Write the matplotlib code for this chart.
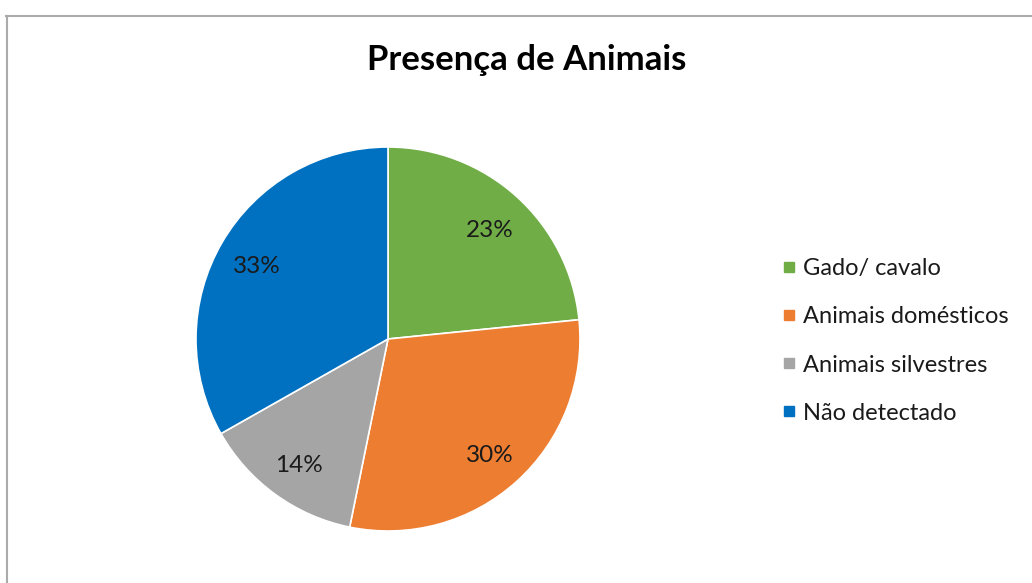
# presenca de animais: pie chart
import matplotlib.pyplot as plt
from matplotlib.lines import Line2D

# chart data
categories = ['Gado/ cavalo', 'Animais domésticos', 'Animais silvestres', 'Não detectado']
shares = [23.4, 29.8, 13.6, 33.2]
colours = ['#70AD47', '#ED7D31', '#A5A5A5', '#0070C0']

plt.rcParams['font.family'] = ['Lato', 'DejaVu Sans']

W, H = 1032, 583
fig = plt.figure(figsize = (W / 100, H / 100), dpi = 100)

# frame around the chart (cropped at right and bottom)
fig.add_artist(Line2D([6 / W, 1], [1 - 15.5 / H] * 2, color = '#ABABAB', lw = 1.5))
fig.add_artist(Line2D([6.5 / W] * 2, [0, 1 - 15.5 / H], color = '#ABABAB', lw = 1.5))

# pie axes placed in pixels
cx, cy, r = 388, 339, 192
ax = fig.add_axes([(cx - r) / W, (H - cy - r) / H, 2 * r / W, 2 * r / H])
wedges, texts, autotexts = ax.pie(
    shares,
    colors = colours,
    startangle = 90,
    counterclock = False,
    autopct = '%.0f%%',
    pctdistance = 0.79,
    wedgeprops = {'edgecolor': 'white', 'linewidth': 1.2},
    textprops = {'fontsize': 17.5, 'color': '#1a1a1a'}
)
ax.set_xlim(-1, 1)
ax.set_ylim(-1, 1)
ax.set_aspect('equal')

# nudge the percentage labels down a little
for t in autotexts:
    x, y = t.get_position()
    t.set_position((x, y - 0.02))

# title
fig.text(527 / W, 1 - 60 / H, 'Presença de Animais', ha = 'center', va = 'center',
         fontsize = 25, fontweight = 'bold', color = '#000000')

# legend
handles = [Line2D([], [], marker = 's', linestyle = 'none', markersize = 7.5,
                  markerfacecolor = c, markeredgecolor = c) for c in colours]
fig.legend(handles, categories, loc = 'center left',
           bbox_to_anchor = (770 / W, 1 - 341 / H), frameon = False,
           fontsize = 17, labelspacing = 1.15, handlelength = 0.6,
           handletextpad = 0.3, borderpad = 0, labelcolor = '#1a1a1a')

fig.savefig('out.png', dpi = 100)
